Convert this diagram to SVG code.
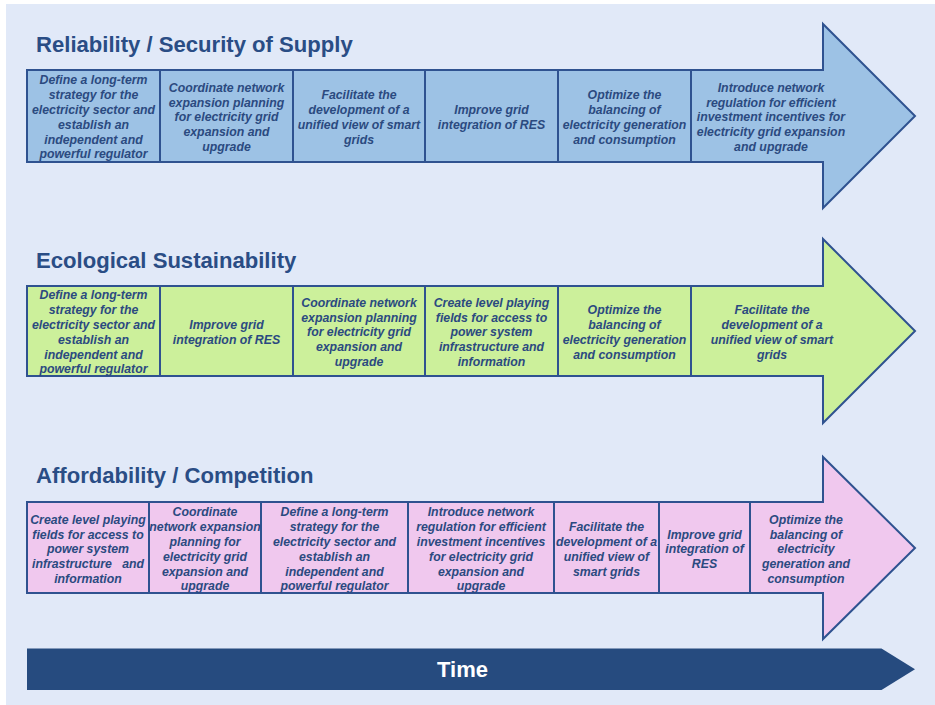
<svg xmlns="http://www.w3.org/2000/svg" width="935" height="705" viewBox="0 0 935 705">
<style>
.bg{fill:#E1E9F8}
.arrow{stroke:#2F5290;stroke-width:2;stroke-linejoin:miter}
.blue{fill:#9DC2E5}
.green{fill:#CCF09B}
.pink{fill:#F0C8EE}
.div{stroke:#2F5290;stroke-width:2}
.title{font-family:"Liberation Sans",Arial,sans-serif;font-weight:bold;font-size:22.1px;fill:#2A4D85}
.cell{font-family:"Liberation Sans",Arial,sans-serif;font-weight:bold;font-style:italic;font-size:12.3px;fill:#2B4A80;text-anchor:middle}
.time{font-family:"Liberation Sans",Arial,sans-serif;font-weight:bold;font-size:22px;fill:#FFFFFF;text-anchor:middle}
</style>
<rect class="bg" x="6" y="4" width="929" height="701"/>

<g id="reliability">
<text class="title" x="36" y="52">Reliability / Security of Supply</text>
<path class="arrow blue" d="M27,70 H823 V24 L915,116 L823,208 V162 H27 Z"/>
<g class="div"><line x1="160" y1="70" x2="160" y2="162"/><line x1="293" y1="70" x2="293" y2="162"/><line x1="425" y1="70" x2="425" y2="162"/><line x1="558" y1="70" x2="558" y2="162"/><line x1="691" y1="70" x2="691" y2="162"/></g>
<g transform="translate(0,1)">
<text class="cell" x="93.5" y="83.4"><tspan x="93.5">Define a long-term</tspan><tspan x="93.5" dy="14.8">strategy for the</tspan><tspan x="93.5" dy="14.8">electricity sector and</tspan><tspan x="93.5" dy="14.8">establish an</tspan><tspan x="93.5" dy="14.8">independent and</tspan><tspan x="93.5" dy="14.8">powerful regulator</tspan></text>
<text class="cell" x="226.5" y="90.8"><tspan x="226.5">Coordinate network</tspan><tspan x="226.5" dy="14.8">expansion planning</tspan><tspan x="226.5" dy="14.8">for electricity grid</tspan><tspan x="226.5" dy="14.8">expansion and</tspan><tspan x="226.5" dy="14.8">upgrade</tspan></text>
<text class="cell" x="359" y="98.2"><tspan x="359">Facilitate the</tspan><tspan x="359" dy="14.8">development of a</tspan><tspan x="359" dy="14.8">unified view of smart</tspan><tspan x="359" dy="14.8">grids</tspan></text>
<text class="cell" x="491.5" y="113"><tspan x="491.5">Improve grid</tspan><tspan x="491.5" dy="14.8">integration of RES</tspan></text>
<text class="cell" x="624.5" y="98.2"><tspan x="624.5">Optimize the</tspan><tspan x="624.5" dy="14.8">balancing of</tspan><tspan x="624.5" dy="14.8">electricity generation</tspan><tspan x="624.5" dy="14.8">and consumption</tspan></text>
<text class="cell" x="771" y="90.8"><tspan x="771">Introduce network</tspan><tspan x="771" dy="14.8">regulation for efficient</tspan><tspan x="771" dy="14.8">investment incentives for</tspan><tspan x="771" dy="14.8">electricity grid expansion</tspan><tspan x="771" dy="14.8">and upgrade</tspan></text>
</g>
</g>

<g id="ecological">
<text class="title" x="36" y="268">Ecological Sustainability</text>
<path class="arrow green" d="M27,286 H823 V239 L915,331 L823,423 V376 H27 Z"/>
<g class="div"><line x1="160" y1="286" x2="160" y2="376"/><line x1="293" y1="286" x2="293" y2="376"/><line x1="425" y1="286" x2="425" y2="376"/><line x1="558" y1="286" x2="558" y2="376"/><line x1="691" y1="286" x2="691" y2="376"/></g>
<g transform="translate(0,1)">
<text class="cell" x="93.5" y="298.4"><tspan x="93.5">Define a long-term</tspan><tspan x="93.5" dy="14.8">strategy for the</tspan><tspan x="93.5" dy="14.8">electricity sector and</tspan><tspan x="93.5" dy="14.8">establish an</tspan><tspan x="93.5" dy="14.8">independent and</tspan><tspan x="93.5" dy="14.8">powerful regulator</tspan></text>
<text class="cell" x="226.5" y="328"><tspan x="226.5">Improve grid</tspan><tspan x="226.5" dy="14.8">integration of RES</tspan></text>
<text class="cell" x="359" y="305.8"><tspan x="359">Coordinate network</tspan><tspan x="359" dy="14.8">expansion planning</tspan><tspan x="359" dy="14.8">for electricity grid</tspan><tspan x="359" dy="14.8">expansion and</tspan><tspan x="359" dy="14.8">upgrade</tspan></text>
<text class="cell" x="491.5" y="305.8"><tspan x="491.5">Create level playing</tspan><tspan x="491.5" dy="14.8">fields for access to</tspan><tspan x="491.5" dy="14.8">power system</tspan><tspan x="491.5" dy="14.8">infrastructure and</tspan><tspan x="491.5" dy="14.8">information</tspan></text>
<text class="cell" x="624.5" y="313.2"><tspan x="624.5">Optimize the</tspan><tspan x="624.5" dy="14.8">balancing of</tspan><tspan x="624.5" dy="14.8">electricity generation</tspan><tspan x="624.5" dy="14.8">and consumption</tspan></text>
<text class="cell" x="772" y="313.2"><tspan x="772">Facilitate the</tspan><tspan x="772" dy="14.8">development of a</tspan><tspan x="772" dy="14.8">unified view of smart</tspan><tspan x="772" dy="14.8">grids</tspan></text>
</g>
</g>

<g id="affordability">
<text class="title" x="36" y="483">Affordability / Competition</text>
<path class="arrow pink" d="M27,502 H823 V457 L915,548 L823,639 V593 H27 Z"/>
<g class="div"><line x1="149" y1="502" x2="149" y2="593"/><line x1="261" y1="502" x2="261" y2="593"/><line x1="408" y1="502" x2="408" y2="593"/><line x1="554" y1="502" x2="554" y2="593"/><line x1="659" y1="502" x2="659" y2="593"/><line x1="750" y1="502" x2="750" y2="593"/></g>
<g transform="translate(0,1)">
<text class="cell" x="88" y="522.8"><tspan x="88">Create level playing</tspan><tspan x="88" dy="14.8">fields for access to</tspan><tspan x="88" dy="14.8">power system</tspan><tspan x="88" dy="14.8">infrastructure&#160;&#160; and</tspan><tspan x="88" dy="14.8">information</tspan></text>
<text class="cell" x="205" y="515.4"><tspan x="205">Coordinate</tspan><tspan x="205" dy="14.8">network expansion</tspan><tspan x="205" dy="14.8">planning for</tspan><tspan x="205" dy="14.8">electricity grid</tspan><tspan x="205" dy="14.8">expansion and</tspan><tspan x="205" dy="14.8">upgrade</tspan></text>
<text class="cell" x="334.5" y="515.4"><tspan x="334.5">Define a long-term</tspan><tspan x="334.5" dy="14.8">strategy for the</tspan><tspan x="334.5" dy="14.8">electricity sector and</tspan><tspan x="334.5" dy="14.8">establish an</tspan><tspan x="334.5" dy="14.8">independent and</tspan><tspan x="334.5" dy="14.8">powerful regulator</tspan></text>
<text class="cell" x="481" y="515.4"><tspan x="481">Introduce network</tspan><tspan x="481" dy="14.8">regulation for efficient</tspan><tspan x="481" dy="14.8">investment incentives</tspan><tspan x="481" dy="14.8">for electricity grid</tspan><tspan x="481" dy="14.8">expansion and</tspan><tspan x="481" dy="14.8">upgrade</tspan></text>
<text class="cell" x="606.5" y="530.2"><tspan x="606.5">Facilitate the</tspan><tspan x="606.5" dy="14.8">development of a</tspan><tspan x="606.5" dy="14.8">unified view of</tspan><tspan x="606.5" dy="14.8">smart grids</tspan></text>
<text class="cell" x="704.5" y="537.6"><tspan x="704.5">Improve grid</tspan><tspan x="704.5" dy="14.8">integration of</tspan><tspan x="704.5" dy="14.8">RES</tspan></text>
<text class="cell" x="806" y="522.8"><tspan x="806">Optimize the</tspan><tspan x="806" dy="14.8">balancing of</tspan><tspan x="806" dy="14.8">electricity</tspan><tspan x="806" dy="14.8">generation and</tspan><tspan x="806" dy="14.8">consumption</tspan></text>
</g>
</g>

<g id="time">
<path d="M27,648.5 H881.5 L915,669.3 L881.5,690 H27 Z" fill="#264B7F"/>
<text class="time" x="462.5" y="677">Time</text>
</g>
</svg>
